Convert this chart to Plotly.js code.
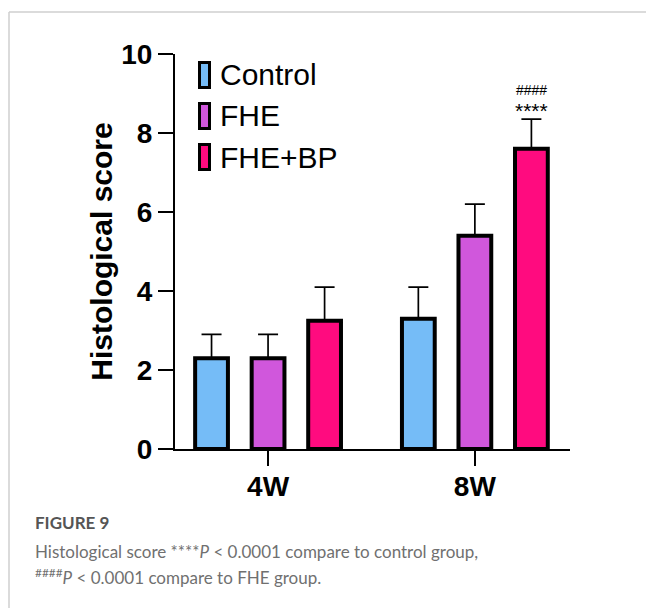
<!DOCTYPE html>
<html>
<head>
<meta charset="utf-8">
<script src="https://cdn.plot.ly/plotly-3.0.1.min.js"></script>
<style>
  html, body { margin: 0; padding: 0; background: #fff; }
  #chart { width: 646px; height: 608px; }
</style>
</head>
<body>
<div id="chart"></div>
<script>
// ---- data ----
const categories = ['4W', '8W'];
const seriesNames = ['Control', 'FHE', 'FHE+BP'];
const seriesColors = ['#75BCF7', '#D057DC', '#FF0B7F'];
const controlMean = [2.3, 3.3];
const controlErr = [0.6, 0.8];
const fheMean = [2.3, 5.4];
const fheErr = [0.6, 0.8];
const bpMean = [3.25, 7.6];
const bpErr = [0.85, 0.75];
const yTickVals = [0, 2, 4, 6, 8, 10];
const sigHash = '####';
const sigStar = '****';
const yTitle = 'Histological score';
const captionHead = 'FIGURE 9';
const captionLine1 = 'Histological score ****<i>P</i> &lt; 0.0001 compare to control group,';
const captionLine2 = '<sup>####</sup><i>P</i> &lt; 0.0001 compare to FHE group.';

// ---- layout geometry ----
const W = 646, H = 608;
const mL = 175, mR = 76, mT = 54, mB = 159;
const pw = W - mL - mR, ph = H - mT - mB;
const px = x => (x - mL) / pw;           // pixel -> paper x
const py = y => (H - mB - y) / ph;        // pixel -> paper y
const bargap = 0.18;
const slot = (1 - bargap) / 3;

const means = [controlMean, fheMean, bpMean];
const errs = [controlErr, fheErr, bpErr];

const FONT = 'Liberation Sans, Arial, Helvetica, sans-serif';

const traces = seriesNames.map((name, i) => ({
  type: 'bar',
  name: name,
  x: categories,
  y: means[i],
  marker: { color: seriesColors[i], line: { color: '#000', width: 4 } },
  error_y: {
    type: 'data', array: errs[i], arrayminus: errs[i].map(() => 0),
    symmetric: false, visible: true, color: '#000', thickness: 1.7, width: 10
  },
  showlegend: false,
  hoverinfo: 'skip'
}));

const shapes = [];
const annotations = [];

// custom legend
seriesNames.forEach((name, i) => {
  const cy = 75 + i * 41;
  shapes.push({
    type: 'rect', xref: 'paper', yref: 'paper',
    x0: px(199.5), x1: px(209.5), y0: py(cy - 12.5), y1: py(cy + 12.5),
    fillcolor: seriesColors[i], line: { color: '#000', width: 3 }
  });
  annotations.push({
    xref: 'paper', yref: 'paper', x: px(218), y: py(cy),
    xanchor: 'left', yanchor: 'middle', showarrow: false,
    text: name, font: { family: FONT, size: 30, color: '#000' }
  });
});

// significance marks above FHE+BP at 8W
const topBP = bpMean[1] + bpErr[1];
annotations.push({
  x: 1 + slot, y: topBP, xref: 'x', yref: 'y', yshift: -5,
  text: sigStar, showarrow: false, xanchor: 'center', yanchor: 'bottom',
  font: { family: FONT, size: 21, color: '#000' }
});
annotations.push({
  x: 1 + slot, y: topBP, xref: 'x', yref: 'y', yshift: 19,
  text: sigHash, showarrow: false, xanchor: 'center', yanchor: 'bottom',
  font: { family: FONT, size: 14, color: '#000' }
});

// frame lines
shapes.push({ type: 'line', xref: 'paper', yref: 'paper', x0: px(9), x1: px(650), y0: py(12), y1: py(12), line: { color: '#cfcfcf', width: 1.5 } });
shapes.push({ type: 'line', xref: 'paper', yref: 'paper', x0: px(9), x1: px(9), y0: py(12), y1: py(612), line: { color: '#cfcfcf', width: 1.5 } });

// caption
const CAP = 'Lato, Open Sans, sans-serif';
annotations.push({
  xref: 'paper', yref: 'paper', x: px(33), y: py(522), xanchor: 'left', yanchor: 'middle',
  showarrow: false, text: '<b>' + captionHead + '</b>', font: { family: CAP, size: 17, color: '#555555' }
});
annotations.push({
  xref: 'paper', yref: 'paper', x: px(33), y: py(551), xanchor: 'left', yanchor: 'middle',
  showarrow: false, text: captionLine1, font: { family: CAP, size: 17, color: '#707070' }
});
annotations.push({
  xref: 'paper', yref: 'paper', x: px(33), y: py(576), xanchor: 'left', yanchor: 'middle',
  showarrow: false, text: captionLine2, font: { family: CAP, size: 17, color: '#707070' }
});

const layout = {
  width: W, height: H,
  margin: { l: mL, r: mR, t: mT, b: mB, pad: 0 },
  paper_bgcolor: '#fff', plot_bgcolor: '#fff',
  barmode: 'group', bargap: bargap, bargroupgap: 0.42,
  xaxis: {
    type: 'category', range: [-0.45, 1.46],
    showline: true, linecolor: '#000', linewidth: 2,
    ticks: 'outside', ticklen: 15, tickwidth: 2, tickcolor: '#000',
    ticklabelstandoff: -4,
    showgrid: false, zeroline: false,
    tickfont: { family: FONT, size: 28, color: '#000', weight: 'bold' }
  },
  yaxis: {
    range: [0, 10], tickvals: yTickVals,
    showline: true, linecolor: '#000', linewidth: 2,
    ticks: 'outside', ticklen: 15, tickwidth: 2, tickcolor: '#000',
    showgrid: false, zeroline: false,
    tickfont: { family: FONT, size: 28, color: '#000', weight: 'bold' },
    title: { text: yTitle, font: { family: FONT, size: 30, color: '#000', weight: 'bold' }, standoff: 0 }
  },
  shapes: shapes,
  annotations: annotations,
  showlegend: false
};

Plotly.newPlot('chart', traces, layout, { staticPlot: true, displayModeBar: false });
</script>
</body>
</html>
